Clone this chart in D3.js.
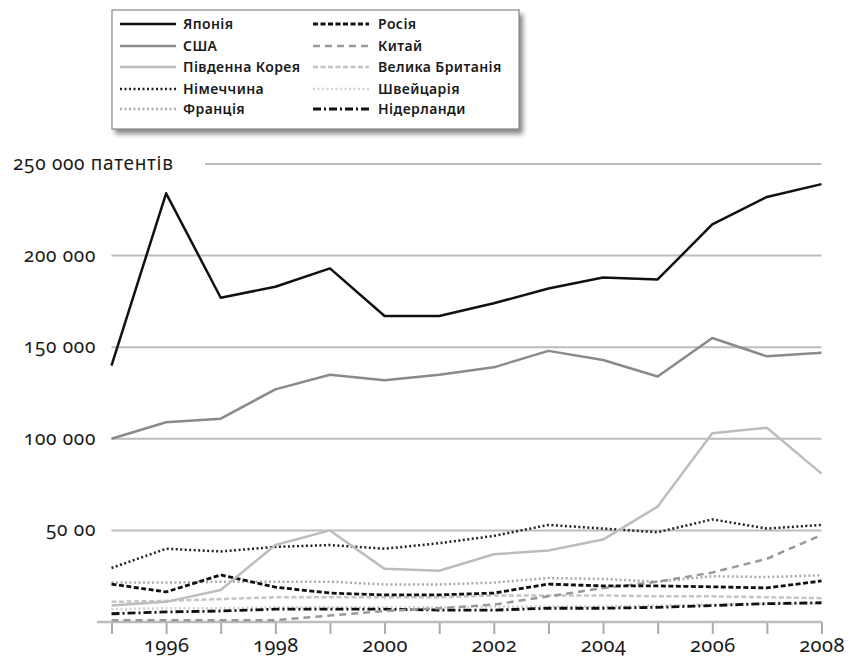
<!DOCTYPE html>
<html><head><meta charset="utf-8">
<script src="https://cdn.jsdelivr.net/npm/d3@7/dist/d3.min.js"></script>
<style>
body{margin:0;background:#fff;}
svg text{font-family:"Noto Sans",sans-serif;font-feature-settings:"onum" 1;font-variant-numeric:oldstyle-nums;fill:#1a1a1a;}
</style></head><body>
<svg id="c" width="852" height="659"></svg>
<script>
const years = [1995,1996,1997,1998,1999,2000,2001,2002,2003,2004,2005,2006,2007,2008];
const tickYears = [1996,1998,2000,2002,2004,2006,2008];
const yTicks = [50000,100000,150000,200000,250000];
const yTickLabels = ["50 00","100 000","150 000","200 000","250 000 патентів"];

const japan   = [140000,234000,177000,183000,193000,167000,167000,174000,182000,188000,187000,217000,232000,239000];
const usa     = [100000,109000,111000,127000,135000,132000,135000,139000,148000,143000,134000,155000,145000,147000];
const korea   = [9000,11000,17500,42000,50000,29000,28000,37000,39000,45000,63000,103000,106000,81000];
const germany = [29500,40000,38500,41000,42000,40000,43000,47000,53000,51000,49000,56000,51000,53000];
const france  = [21500,21500,22000,22000,22000,20500,20500,21500,24000,23500,22000,25000,24500,25500];
const russia  = [20700,16400,25700,19000,15800,14800,14800,15800,20700,19700,19700,19200,18600,22400];
const china   = [1000,1000,1000,1000,3500,6000,7500,9500,14000,18500,22000,27000,34500,47500];
const uk      = [11000,11500,12500,13500,13500,13500,13500,14500,14500,14500,14000,14000,13500,13000];
const swiss   = [7000,7500,7500,8000,8000,8000,8000,8500,8500,8500,9000,9500,10000,10000];
const nether  = [4500,5500,6000,7000,7000,7000,6500,6500,7500,7500,8000,9000,10000,10500];

const seriesNames = ["Японія","США","Південна Корея","Німеччина","Франція","Росія","Китай","Велика Британія","Швейцарія","Нідерланди"];
const seriesData = [japan,usa,korea,germany,france,russia,china,uk,swiss,nether];
const styles = [
  {c:"#111",w:2.5,d:null},
  {c:"#8a8a8a",w:2.5,d:null},
  {c:"#bdbdbd",w:2.5,d:null},
  {c:"#222",w:2.5,d:"2,2.5"},
  {c:"#aaa",w:2.5,d:"2,2.5"},
  {c:"#111",w:2.8,d:"5,2.5"},
  {c:"#999",w:2.5,d:"7,5"},
  {c:"#c4c4c4",w:2.5,d:"5,2.5"},
  {c:"#d2d2d2",w:2.5,d:"2,2.5"},
  {c:"#111",w:2.8,d:"8,3,2,3"}
];

const svg = d3.select("#c");
const defs = svg.append("defs");
const f = defs.append("filter").attr("id","sh").attr("x","-10%").attr("y","-10%").attr("width","130%").attr("height","140%");
f.append("feGaussianBlur").attr("stdDeviation",2.5);

const x = d3.scaleLinear().domain([1995,2008]).range([111.5,821.5]);
const y = d3.scaleLinear().domain([0,250000]).range([622,164]);

// gridlines
const grid = svg.append("g");
yTicks.forEach((t,i)=>{
  grid.append("line").attr("x1", i===4?205:111.5).attr("x2",821.5)
    .attr("y1",y(t)).attr("y2",y(t)).attr("stroke","#bdbdbd").attr("stroke-width",2);
});

// y labels
yTicks.forEach((t,i)=>{
  const tx = svg.append("text").attr("y",y(t)+6).style("font-size","19px").style("letter-spacing","0.7px");
  if(i===4){ tx.attr("x",13).attr("text-anchor","start"); }
  else { tx.attr("x",96).attr("text-anchor","end"); }
  tx.text(yTickLabels[i]);
});

// x axis
const xAxis = d3.axisBottom(x).tickValues(years).tickSize(12).tickFormat(d=>tickYears.includes(d)?String(d):"");
const gx = svg.append("g").attr("transform","translate(0,622)").call(xAxis);
gx.select(".domain").remove();
gx.append("line").attr("x1",97).attr("x2",822).attr("stroke","#bdbdbd").attr("stroke-width",2.5);
gx.selectAll(".tick line").attr("stroke","#aaa").attr("stroke-width",2);
gx.selectAll(".tick text").attr("y",16).style("font-size","20px").style("letter-spacing","0.5px")
  .style("font-family","'Noto Sans',sans-serif").attr("fill","#1a1a1a");

// lines
const line = d3.line().x((d,i)=>x(years[i])).y(d=>y(d));
const order = [8,7,4,9,6,5,3,2,1,0];
order.forEach(k=>{
  const s = styles[k];
  svg.append("path").datum(seriesData[k]).attr("d",line).attr("fill","none")
    .attr("stroke",s.c).attr("stroke-width",s.w).attr("stroke-dasharray",s.d)
    .attr("stroke-linejoin","round");
});

// legend
const lg = svg.append("g");
lg.append("rect").attr("x",115).attr("y",14).attr("width",408).attr("height",120).attr("fill","#555").attr("opacity",0.7).attr("filter","url(#sh)");
lg.append("rect").attr("x",112).attr("y",10).attr("width",407).attr("height",119).attr("fill","#fff").attr("stroke","#888").attr("stroke-width",1.2);
const rowY = [24,46,67,89,109];
seriesNames.forEach((n,k)=>{
  const col = k<5?0:1, r = k%5;
  const lx = col===0?120:313, tx = col===0?183:378;
  const s = styles[k];
  lg.append("line").attr("x1",lx).attr("x2",lx+56).attr("y1",rowY[r]).attr("y2",rowY[r])
    .attr("stroke",s.c).attr("stroke-width",s.w).attr("stroke-dasharray",s.d);
  lg.append("text").attr("x",tx).attr("y",rowY[r]+5).style("font-size","14px").style("font-weight","600")
    .style("letter-spacing","0.4px").attr("fill","#111").text(n);
});
</script>
</body></html>
